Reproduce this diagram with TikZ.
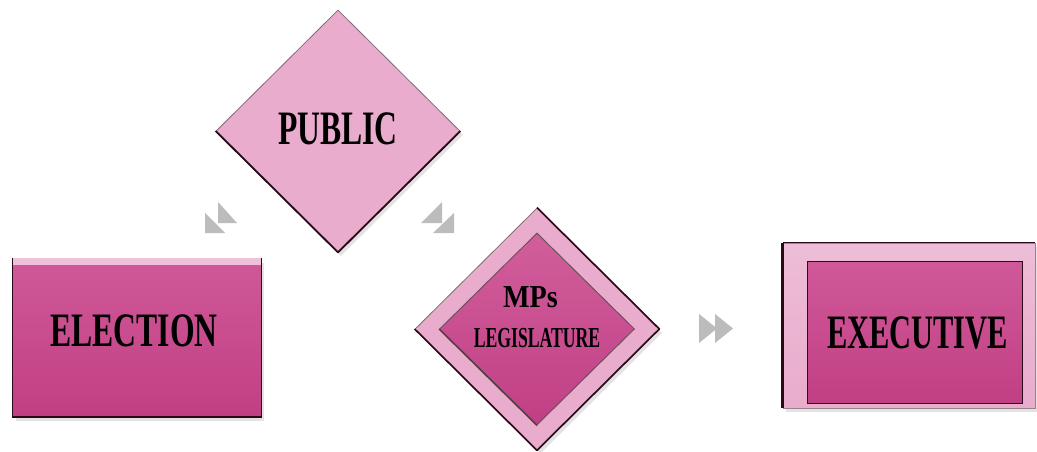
\documentclass[tikz,border=0pt]{standalone}
\usepackage{fontspec}
\setmainfont{Liberation Serif}
\usetikzlibrary{shapes.geometric,shadows}
\definecolor{mag}{HTML}{C9428A}
\definecolor{lpink}{HTML}{E9ACCC}
\definecolor{arrgray}{HTML}{BCBCBC}
\definecolor{edgec}{HTML}{2A0A18}
\tikzset{
  lab/.style={inner sep=0pt, text=black, font=\bfseries},
  big/.style={lab, font=\bfseries\fontsize{48}{50}\selectfont},
  magbox/.style={rectangle, inner sep=0pt, draw=edgec, line width=1.3pt,
     top color=mag!88!white, bottom color=mag!96!black},
  pinkbox/.style={rectangle, inner sep=0pt, draw=edgec!50, line width=0.8pt,
     top color=lpink!80!white, bottom color=lpink},
  magdia/.style={diamond, inner sep=0pt, draw=edgec!70, line width=1pt,
     top color=mag!85!white, bottom color=mag!96!black},
  pinkdia/.style={diamond, inner sep=0pt, draw=edgec!60, line width=0.8pt, fill=lpink},
  softshadow/.style={drop shadow={opacity=0.22, shadow xshift=3pt, shadow yshift=-4pt}},
  tri/.style={fill=arrgray}
}
\begin{document}
\begin{tikzpicture}[x=1pt,y=-1pt]
\useasboundingbox[fill=white] (0,0) rectangle (1037,452);

% ELECTION
\node[magbox, draw=none, softshadow, minimum width=248, minimum height=158] (election) at (137,337.5) {};
\fill[lpink!75!white] (election.north west) rectangle ([yshift=-7pt]election.north east);
\draw[edgec, line width=1.4pt] (election.north west) -- (election.south west);
\draw[edgec, line width=1.4pt] (election.north east) -- (election.south east);
\draw[edgec, line width=2.4pt] (election.south west) -- (election.south east);
\node[big] (electiont) at (134,331) {\scalebox{0.66}[1]{ELECTION}};

% PUBLIC
\node[pinkdia, softshadow, minimum width=244, minimum height=242] (public) at (338,131) {};
\draw[edgec, line width=1.8pt, line join=round] (public.west) -- (public.south) -- (public.east);
\node[big] (publict) at (338,128.5) {\scalebox{0.66}[1]{PUBLIC}};

% MPs / LEGISLATURE
\node[pinkdia, softshadow, minimum width=244, minimum height=242] (mpsout) at (537,329) {};
\draw[edgec, line width=1.6pt, line join=round] (mpsout.west) -- (mpsout.south) -- (mpsout.east) -- (mpsout.north);
\node[magdia, minimum width=195, minimum height=192] (mpsin) at (537,329) {};
\draw[edgec!80, line width=1.4pt] (mpsin.west) -- (mpsin.south);
\node[lab, font=\bfseries\fontsize{32}{34}\selectfont, anchor=base] (mpst) at (530.5,307) {\scalebox{0.88}[1]{MPs}};
\node[lab, font=\bfseries\fontsize{29}{31}\selectfont, anchor=base] (legt) at (537,347) {\scalebox{0.61}[1]{LEGISLATURE}};

% EXECUTIVE
\node[pinkbox, softshadow, minimum width=252, minimum height=165] (execout) at (909,325.5) {};
\draw[edgec, line width=2.4pt] (execout.north west) -- (execout.south west);
\draw[edgec, line width=0.9pt] (execout.north west) -- (execout.north east);
\node[magbox, line width=1pt, minimum width=215, minimum height=142] (execin) at (914.5,332) {};
\node[big] (exect) at (917.5,332.5) {\scalebox{0.634}[1]{EXECUTIVE}};

% arrow glyphs
\fill[tri] (218,202) -- (218,223) -- (237,223) -- cycle;
\fill[tri] (205,213) -- (205,233) -- (225,233) -- cycle;
\fill[tri] (442,202) -- (442,223) -- (421,223) -- cycle;
\fill[tri] (454,213) -- (454,233) -- (433,233) -- cycle;
\fill[tri] (699,314) -- (717,328.5) -- (699,343) -- cycle;
\fill[tri] (715,314) -- (733,328.5) -- (715,343) -- cycle;
\end{tikzpicture}
\end{document}
